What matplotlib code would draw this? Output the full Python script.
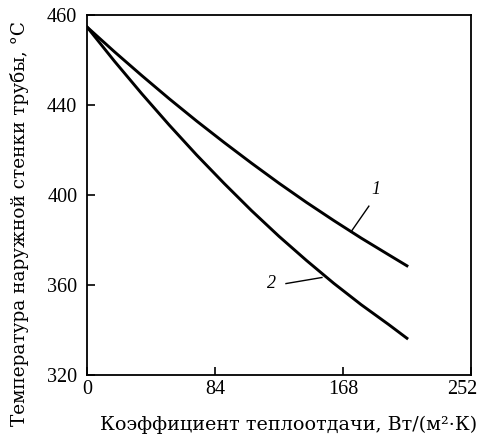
import matplotlib
matplotlib.use("Agg")
import matplotlib.pyplot as plt
from matplotlib.transforms import offset_copy

# Values (y axis is evenly spaced, top tick is labelled 460)
x_values = [0, 18, 36, 54, 72, 90, 108, 126, 144, 162, 180, 198, 210]
curve_1 = [474.6, 463.6, 453.0, 442.7, 432.8, 423.3, 414.1, 405.2, 396.7, 388.6, 380.8, 373.4, 368.5]
curve_2 = [474.6, 459.4, 444.9, 431.0, 417.7, 405.1, 393.0, 381.6, 370.9, 360.7, 351.2, 342.4, 336.3]

x_ticks = [0, 84, 168, 252]
y_ticks = [320, 360, 400, 440, 480]
y_tick_labels = ["320", "360", "400", "440", "460"]

plt.rcParams["font.family"] = ["DejaVu Serif"]

fig = plt.figure(figsize=(4.81, 4.38), dpi=100)
ax = fig.add_axes([0.181, 0.144, 0.798, 0.822])

ax.plot(x_values, curve_1, color="black", linewidth=2.1)
ax.plot(x_values, curve_2, color="black", linewidth=2.1)

# curve labels with leader lines
ax.plot([185, 173.2], [395, 383.5], color="black", linewidth=1.0)
ax.text(189.6, 402.5, "1", fontsize=13, style="italic", ha="center", va="center",
        family="Liberation Serif")
ax.plot([130.6, 154.2], [360.6, 363.3], color="black", linewidth=1.0)
ax.text(121.4, 360.7, "2", fontsize=13, style="italic", ha="center", va="center",
        family="Liberation Serif")

ax.set_xlim(0, 252)
ax.set_ylim(320, 480)
ax.set_xticks(x_ticks)
ax.set_yticks(y_ticks)
ax.set_yticklabels(y_tick_labels)
ax.tick_params(direction="in", length=6, width=1.2, labelsize=14.5)
ax.tick_params(axis="x", pad=4)
ax.tick_params(axis="y", pad=7)
for lbl in ax.get_xticklabels() + ax.get_yticklabels():
    lbl.set_family("Liberation Serif")
last = ax.get_xticklabels()[-1]
last.set_transform(offset_copy(last.get_transform(), fig=fig, x=-9, y=0, units="dots"))
for sp in ax.spines.values():
    sp.set_linewidth(1.3)

ax.set_xlabel("Коэффициент теплоотдачи, Вт/(м²·К)", fontsize=13.8, va="center")
ax.set_ylabel("Температура наружной стенки трубы, °С", fontsize=13.3, va="center")
ax.xaxis.set_label_coords(0.526, -0.139)
ax.yaxis.set_label_coords(-0.175, 0.42)

fig.savefig("out.png", dpi=100)
